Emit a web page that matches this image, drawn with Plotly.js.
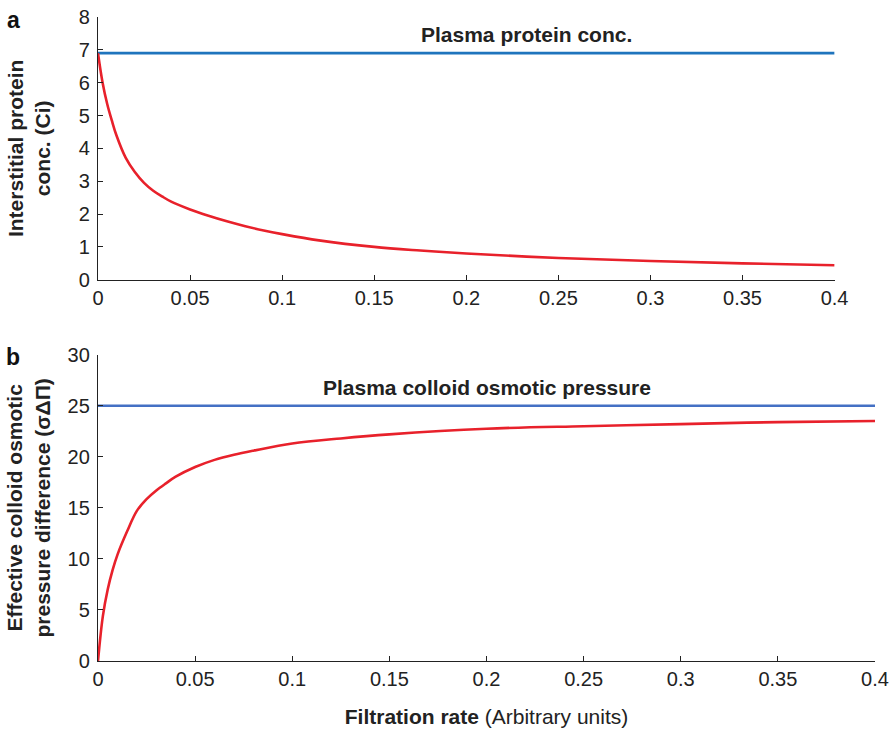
<!DOCTYPE html>
<html>
<head>
<meta charset="utf-8">
<script src="https://cdn.plot.ly/plotly-3.0.1.min.js"></script>
<style>html,body{margin:0;padding:0;background:#fff}#chart{width:895px;height:729px}</style>
</head>
<body>
<div id="chart"></div>
<script>
// Panel a: interstitial protein concentration vs filtration rate
const xA = [0, 0.0025, 0.005, 0.0075, 0.01, 0.015, 0.02, 0.025, 0.03, 0.035, 0.04, 0.05, 0.06, 0.07, 0.08, 0.09, 0.1, 0.12, 0.15, 0.175, 0.2, 0.25, 0.3, 0.35, 0.4];
const ciA = [6.9, 6.0, 5.35, 4.85, 4.4, 3.72, 3.28, 2.95, 2.71, 2.53, 2.37, 2.14, 1.95, 1.78, 1.63, 1.5, 1.39, 1.2, 1.0, 0.89, 0.8, 0.66, 0.57, 0.5, 0.44];
const plasmaX = [0, 0.4];
const plasmaProtein = [6.9, 6.9];

// Panel b: effective colloid osmotic pressure difference vs filtration rate
const xB = [0, 0.0025, 0.005, 0.0075, 0.01, 0.015, 0.02, 0.025, 0.03, 0.035, 0.04, 0.05, 0.06, 0.07, 0.08, 0.1, 0.125, 0.15, 0.2, 0.25, 0.3, 0.35, 0.4];
const sigmaB = [0, 4.4, 7.0, 8.9, 10.4, 12.7, 14.7, 15.85, 16.7, 17.4, 18.05, 19.0, 19.7, 20.2, 20.6, 21.3, 21.8, 22.2, 22.75, 23.0, 23.2, 23.4, 23.5];
const plasmaCOP = [25, 25];

const xTicks = [0, 0.05, 0.1, 0.15, 0.2, 0.25, 0.3, 0.35, 0.4];

const FONT = 'Liberation Sans, Arial, sans-serif';
const RED = '#e8212b';

const traces = [
  {x: plasmaX, y: plasmaProtein, mode: 'lines', line: {color: '#1f74bd', width: 2.6}, xaxis: 'x', yaxis: 'y', hoverinfo: 'skip'},
  {x: xA, y: ciA, mode: 'lines', line: {color: RED, width: 2.6, shape: 'spline', smoothing: 1}, xaxis: 'x', yaxis: 'y'},
  {x: plasmaX, y: plasmaCOP, mode: 'lines', line: {color: '#4470c4', width: 2.6}, xaxis: 'x2', yaxis: 'y2', hoverinfo: 'skip'},
  {x: xB, y: sigmaB, mode: 'lines', line: {color: RED, width: 2.6, shape: 'spline', smoothing: 1}, xaxis: 'x2', yaxis: 'y2'}
];

const axBase = {
  showgrid: false, zeroline: false, showline: true, linecolor: '#222', linewidth: 1.4,
  ticks: 'inside', ticklen: 5, tickwidth: 1.2, tickcolor: '#222',
  tickfont: {family: FONT, size: 20, color: '#222'}, automargin: false
};

const layout = {
  width: 895, height: 729,
  margin: {l: 98, r: 20, t: 17, b: 68},
  paper_bgcolor: '#fff', plot_bgcolor: '#fff',
  showlegend: false,
  font: {family: FONT, color: '#222'},
  xaxis: Object.assign({}, axBase, {domain: [0, 0.948], range: [0, 0.4], tickvals: xTicks, anchor: 'y'}),
  yaxis: Object.assign({}, axBase, {domain: [0.592, 1], range: [0, 8], dtick: 1, anchor: 'x', ticklabelstandoff: 3,
    title: {text: 'Interstitial protein<br>conc. (Ci)', font: {family: FONT, size: 21, color: '#222', weight: 'bold'}, standoff: 22}}),
  xaxis2: Object.assign({}, axBase, {domain: [0, 1], range: [0, 0.4], tickvals: xTicks, anchor: 'y2',
    title: {text: '<b>Filtration rate</b> (Arbitrary units)', font: {family: FONT, size: 21, color: '#222'}, standoff: 20}}),
  yaxis2: Object.assign({}, axBase, {domain: [0, 0.4756], range: [0, 30], dtick: 5, anchor: 'x2', ticklabelstandoff: 3,
    title: {text: 'Effective colloid osmotic<br>pressure difference (σΔΠ)', font: {family: FONT, size: 21, color: '#222', weight: 'bold'}, standoff: 11}}),
  annotations: [
    {xref: 'x', yref: 'y', x: 0.2325, y: 7.46, text: '<b>Plasma protein conc.</b>', showarrow: false, font: {family: FONT, size: 21, color: '#222'}},
    {xref: 'x2', yref: 'y2', x: 0.2, y: 26.8, text: '<b>Plasma colloid osmotic pressure</b>', showarrow: false, font: {family: FONT, size: 21, color: '#222'}},
    {xref: 'paper', yref: 'paper', x: -0.109, y: 0.995, xanchor: 'center', yanchor: 'middle', text: '<b>a</b>', showarrow: false, font: {family: FONT, size: 23, color: '#111'}},
    {xref: 'paper', yref: 'paper', x: -0.109, y: 0.472, xanchor: 'center', yanchor: 'middle', text: '<b>b</b>', showarrow: false, font: {family: FONT, size: 23, color: '#111'}}
  ]
};

Plotly.newPlot('chart', traces, layout, {displayModeBar: false, responsive: false});
</script>
</body>
</html>
